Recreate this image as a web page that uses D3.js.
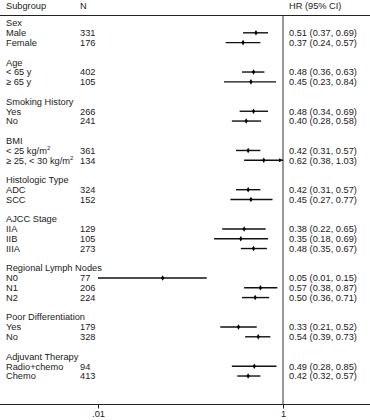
<!DOCTYPE html>
<html><head><meta charset="utf-8">
<script src="https://cdn.jsdelivr.net/npm/d3@7"></script>
<style>body{margin:0;background:#fff}svg{display:block}text{font-family:"Liberation Sans",Arial,Helvetica,sans-serif;font-size:9.25px;fill:#1a1a1a}</style>
</head><body>
<script>
// Data
const groupNames = ["Sex","Age","Smoking History","BMI","Histologic Type","AJCC Stage","Regional Lymph Nodes","Poor Differentiation","Adjuvant Therapy"];
const subgroupLabels = [["Male","Female"],["< 65 y","\u2265 65 y"],["Yes","No"],["< 25 kg/m|2","\u2265 25, < 30 kg/m|2"],["ADC","SCC"],["IIA","IIB","IIIA"],["N0","N1","N2"],["Yes","No"],["Radio+chemo","Chemo"]];
const subgroupN = [[331,176],[402,105],[266,241],[361,134],[324,152],[129,105,273],[77,206,224],[179,328],[94,413]];
const hrValues = [[0.51,0.37],[0.48,0.45],[0.48,0.40],[0.42,0.62],[0.42,0.45],[0.38,0.35,0.48],[0.05,0.57,0.50],[0.33,0.54],[0.49,0.42]];
const ciLower = [[0.37,0.24],[0.36,0.23],[0.34,0.28],[0.31,0.38],[0.31,0.27],[0.22,0.18,0.35],[0.01,0.38,0.36],[0.21,0.39],[0.28,0.32]];
const ciUpper = [[0.69,0.57],[0.63,0.84],[0.69,0.58],[0.57,1.03],[0.57,0.77],[0.65,0.69,0.67],[0.15,0.87,0.71],[0.52,0.73],[0.85,0.57]];
const tickValues = [0.01, 1];
const tickLabels = [".01", "1"];

const W = 370, H = 420;
const svg = d3.select("body").append("svg").attr("width", W).attr("height", H);
const x = d3.scaleLog().domain([0.01, 1]).range([98, 283]);
const rowH = 9.806, y0 = 23;
const fmt = v => v.toFixed(2);

svg.append("defs").append("marker").attr("id","arr").attr("viewBox","0 0 6 6")
  .attr("refX",6).attr("refY",3).attr("markerWidth",3).attr("markerHeight",3).attr("orient","auto")
  .append("path").attr("d","M0,0L6,3L0,6Z").attr("fill","#111");

// header
svg.append("text").attr("x",6).attr("y",8.5).text("Subgroup");
svg.append("text").attr("x",80).attr("y",8.5).text("N");
svg.append("text").attr("x",289).attr("y",8.5).text("HR (95% CI)");
svg.append("line").attr("x1",0).attr("x2",W).attr("y1",15.5).attr("y2",15.5).attr("stroke","#222").attr("stroke-width",1);
svg.append("line").attr("x1",x(1)).attr("x2",x(1)).attr("y1",15.5).attr("y2",404).attr("stroke","#333").attr("stroke-width",1);

let row = 0;
groupNames.forEach((g, gi) => {
  const yc = y0 + row*rowH;
  svg.append("text").attr("x",6).attr("y",yc+3.3).text(g);
  row++;
  subgroupLabels[gi].forEach((lab, si) => {
    const yy = y0 + row*rowH;
    const t = svg.append("text").attr("x",6).attr("y",yy+3.3);
    const parts = lab.split("|");
    t.append("tspan").text(parts[0]);
    if (parts[1]) t.append("tspan").attr("dy",-3.5).style("font-size","6px").text(parts[1]);
    svg.append("text").attr("x",80).attr("y",yy+3.3).text(subgroupN[gi][si]);
    const h = hrValues[gi][si], lo = ciLower[gi][si], hi = ciUpper[gi][si];
    svg.append("text").attr("x",289).attr("y",yy+3.3).text(`${fmt(h)} (${fmt(lo)}, ${fmt(hi)})`);
    const clipped = hi > x.domain()[1];
    const ln = svg.append("line").attr("x1",x(Math.max(lo,x.domain()[0]))).attr("x2",x(Math.min(hi,x.domain()[1])))
      .attr("y1",yy).attr("y2",yy).attr("stroke","#111").attr("stroke-width",1.4);
    if (clipped) ln.attr("marker-end","url(#arr)");
    svg.append("path").attr("d", d3.symbol().type(d3.symbolDiamond).size(9)())
      .attr("transform",`translate(${x(h)},${yy})`).attr("fill","#000");
    row++;
  });
  row++;
});

// bottom axis
svg.append("line").attr("x1",0).attr("x2",W).attr("y1",404.5).attr("y2",404.5).attr("stroke","#222").attr("stroke-width",1);
const ax = svg.append("g").attr("transform","translate(0,404.5)")
  .call(d3.axisBottom(x).tickValues(tickValues).tickFormat((d,i)=>tickLabels[i]).tickSize(4).tickPadding(2));
ax.select(".domain").remove();
ax.selectAll("line").attr("stroke","#222");
ax.selectAll("text").style("font-family",'"Liberation Sans",Arial,sans-serif').style("font-size","9.25px").attr("fill","#1a1a1a");
</script>
</body></html>
